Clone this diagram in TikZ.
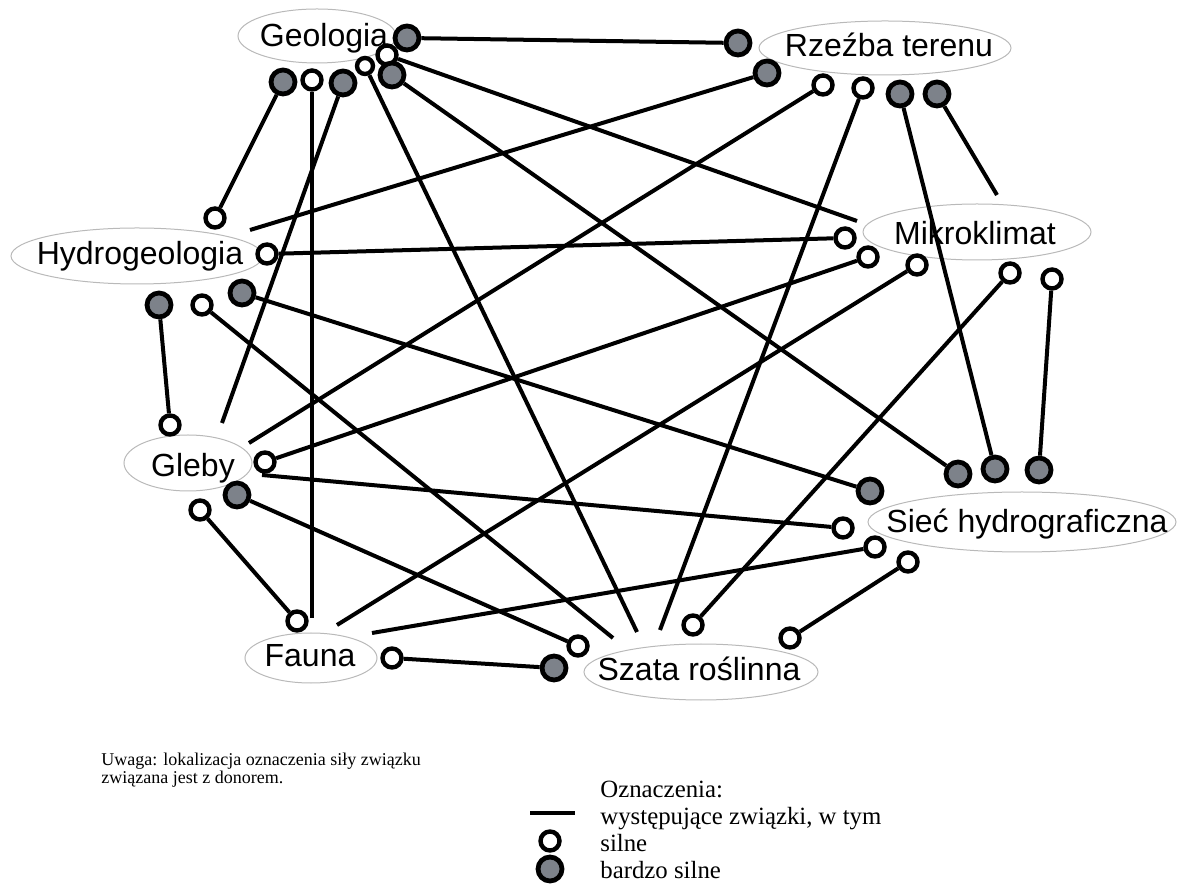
\documentclass[tikz,border=0pt]{standalone}
\usepackage{fontspec}
\setmainfont{Liberation Sans}
\newfontfamily\notefont{Liberation Serif}
\usepackage{tikz}
\usetikzlibrary{shapes,backgrounds}

\definecolor{markgray}{RGB}{125,130,138}

\tikzset{
  topic/.style={font=\fontsize{16}{19}\selectfont, inner sep=0pt, anchor=base},
  ring/.style={draw=gray!55, line width=0.5pt},
  link/.style={line width=2pt},
  strong/.style={circle, draw, line width=2.2pt, fill=white, minimum size=9.5pt, inner sep=0pt},
  vstrong/.style={circle, draw, line width=2.4pt, fill=markgray, minimum size=12pt, inner sep=0pt},
  notetxt/.style={font=\notefont\fontsize{9}{11}\selectfont, anchor=base west, inner sep=0pt},
  legendtxt/.style={font=\notefont\fontsize{12.4}{15}\selectfont, anchor=base west, inner sep=0pt}
}

\begin{document}
\begin{tikzpicture}[x=0.5pt,y=-0.5pt]
    \useasboundingbox (0,0) rectangle (1177,886);

    % topics
    \node[topic] (geo) at (324,47) {Geologia};
    \node[topic] (rze) at (889,57) {Rzeźba terenu};
    \node[topic] (hyd) at (140,265) {Hydrogeologia};
    \node[topic] (mik) at (975,245) {Mikroklimat};
    \node[topic] (gle) at (193,477) {Gleby};
    \node[topic] (sie) at (1027,533) {Sieć hydrograficzna};
    \node[topic] (fau) at (310,667) {Fauna};
    \node[topic] (sza) at (699,680) {Szata roślinna};

    % Geologia
    \node[vstrong] (g1) at (407,38) {};
    \node[vstrong] (g2) at (283,82) {};
    \node[strong] (g3) at (312,80) {};
    \node[vstrong] (g4) at (343,83) {};
    \node[strong] (g6) at (387,55) {};
    \node[strong, minimum size=8pt] (g5) at (365,66) {};
    \node[vstrong] (g7) at (392,75) {};

    % Rzezba terenu
    \node[vstrong] (r1) at (738,43) {};
    \node[vstrong] (r2) at (767,73) {};
    \node[strong] (r3) at (823,85) {};
    \node[strong] (r4) at (863,88) {};
    \node[vstrong] (r5) at (900,94) {};
    \node[vstrong] (r6) at (937,94) {};

    % Hydrogeologia
    \node[strong] (h1) at (215,218) {};
    \node[strong] (h2) at (267,254) {};
    \node[vstrong] (h3) at (159,305) {};
    \node[strong] (h4) at (202,305) {};
    \node[vstrong] (h5) at (242,293) {};

    % Mikroklimat
    \node[strong] (m1) at (845,238) {};
    \node[strong] (m2) at (868,257) {};
    \node[strong] (m3) at (917,265) {};
    \node[strong] (m4) at (1010,273) {};
    \node[strong] (m5) at (1052,279) {};

    % Gleby
    \node[strong] (e1) at (170,425) {};
    \node[strong] (e2) at (265,462) {};
    \node[vstrong] (e3) at (237,495) {};
    \node[strong] (e4) at (200,510) {};

    % Siec hydrograficzna
    \node[vstrong] (s1) at (958,474) {};
    \node[vstrong] (s2) at (995,469) {};
    \node[vstrong] (s3) at (1039,470) {};
    \node[vstrong] (s4) at (870,491) {};
    \node[strong] (s5) at (843,528) {};
    \node[strong] (s6) at (875,547) {};
    \node[strong] (s7) at (908,562) {};

    % Fauna
    \node[strong] (f1) at (297,621) {};
    \node[strong] (f2) at (392,658) {};

    % Szata roslinna
    \node[vstrong] (z1) at (554,668) {};
    \node[strong] (z2) at (578,646) {};
    \node[strong] (z3) at (693,625) {};
    \node[strong] (z4) at (790,638) {};

    % free ends
    \coordinate (hydA) at (250,230);
    \coordinate (mikA) at (857,221);
    \coordinate (mikB) at (997,195);
    \coordinate (gleA) at (222,423);
    \coordinate (gleB) at (249,443);
    \coordinate (gleC) at (262,475);
    \coordinate (fauA) at (312,618);
    \coordinate (fauB) at (337,625);
    \coordinate (fauC) at (372,633);
    \coordinate (szaA) at (613,638);
    \coordinate (szaB) at (637,632);
    \coordinate (szaC) at (660,630);

    \begin{scope}[on background layer]
    \draw[ring] (317,36) ellipse [x radius=39.5pt, y radius=13.5pt];
    \draw[ring] (885,48) ellipse [x radius=63pt, y radius=13.5pt];
    \draw[ring] (137,256) ellipse [x radius=63pt, y radius=14pt];
    \draw[ring] (977,232) ellipse [x radius=57pt, y radius=14pt];
    \draw[ring] (188,463) ellipse [x radius=32pt, y radius=14pt];
    \draw[ring] (1022,522) ellipse [x radius=77pt, y radius=15pt];
    \draw[ring] (311,658) ellipse [x radius=33pt, y radius=12.5pt];
    \draw[ring] (701,672) ellipse [x radius=58.5pt, y radius=14pt];

    % connections
    \draw[link] (g1) -- (r1);
    \draw[link] (g2) -- (h1);
    \draw[link] (g3) -- (fauA);
    \draw[link] (g4) -- (gleA);
    \draw[link] (g5) -- (szaB);
    \draw[link] (g6) -- (mikA);
    \draw[link] (g7) -- (s1);
    \draw[link] (r2) -- (hydA);
    \draw[link] (r3) -- (gleB);
    \draw[link] (r4) -- (szaC);
    \draw[link] (r5) -- (s2);
    \draw[link] (r6) -- (mikB);
    \draw[link] (h2) -- (m1);
    \draw[link] (h3) -- (e1);
    \draw[link] (h4) -- (szaA);
    \draw[link] (h5) -- (s4);
    \draw[link] (m2) -- (e2);
    \draw[link] (m3) -- (fauB);
    \draw[link] (m4) -- (z3);
    \draw[link] (m5) -- (s3);
    \draw[link] (gleC) -- (s5);
    \draw[link] (e3) -- (z2);
    \draw[link] (e4) -- (f1);
    \draw[link] (fauC) -- (s6);
    \draw[link] (f2) -- (z1);
    \draw[link] (z4) -- (s7);
    \end{scope}

    % note
    \node[notetxt] (uw1) at (101,765) {Uwaga: lokalizacja oznaczenia siły związku};
    \node[notetxt] (uw2) at (101,783) {związana jest z donorem.};

    % legend
    \draw[link] (530,813) -- (575,813);
    \node[strong] (ks) at (550,841) {};
    \node[vstrong] (kb) at (550,869) {};
    \node[legendtxt] (l0) at (600,797) {Oznaczenia:};
    \node[legendtxt] (l1) at (600,824) {występujące związki, w tym};
    \node[legendtxt] (l2) at (600,851) {silne};
    \node[legendtxt] (l3) at (600,878) {bardzo silne};
\end{tikzpicture}
\end{document}
